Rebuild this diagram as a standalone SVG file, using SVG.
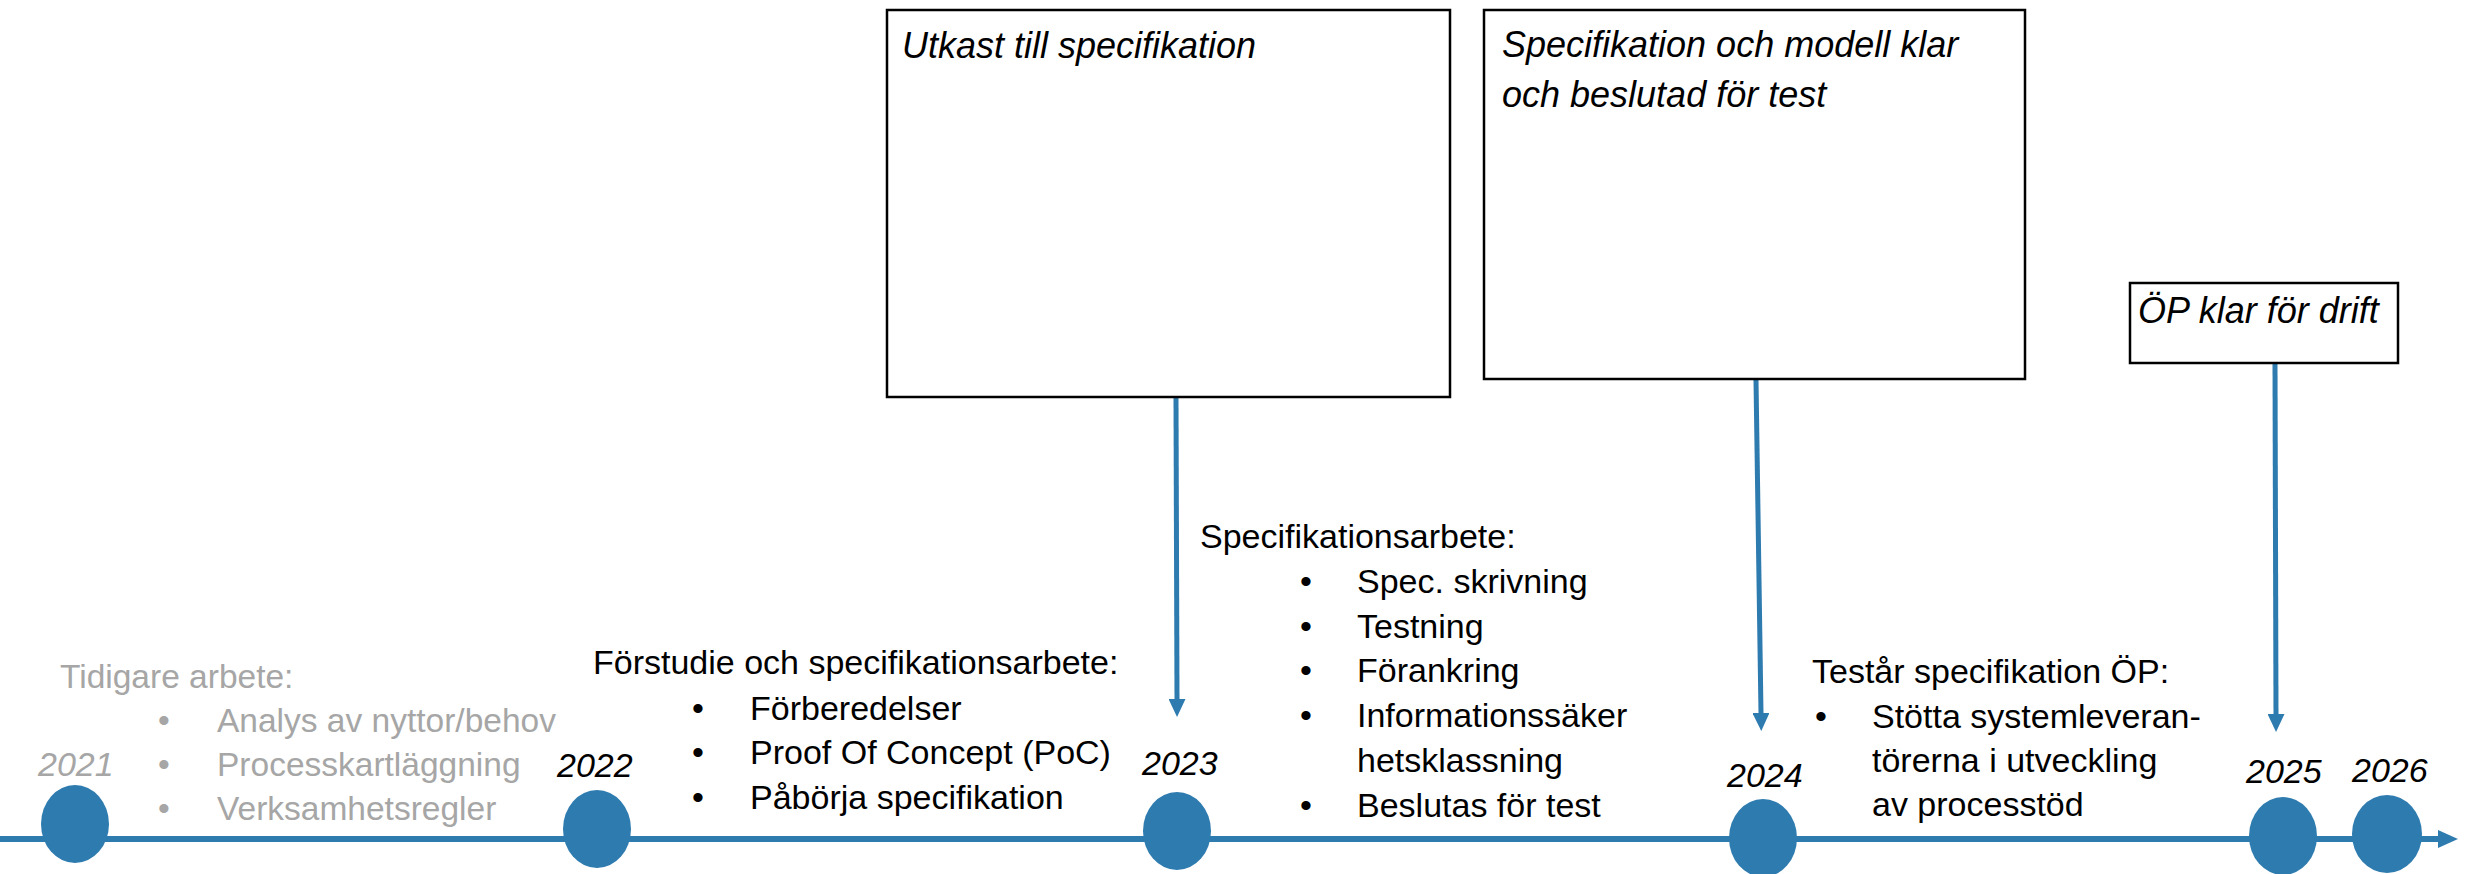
<svg xmlns="http://www.w3.org/2000/svg" width="2468" height="874" viewBox="0 0 2468 874">
<style>
text{font-family:"Liberation Sans",Arial,sans-serif;}
.gray{fill:#A6A6A6;font-size:33.5px;}
.blk{fill:#000;font-size:34px;}
.yr{font-size:34px;font-style:italic;fill:#000;}
.ttl{font-size:36px;font-style:italic;fill:#000;}
.box{fill:#fff;stroke:#000;stroke-width:2.5;}
.dot{fill:#2E7BAF;}
.conn{stroke:#2E7BAF;stroke-width:5;fill:none;}
.axis{stroke:#2E7BAF;stroke-width:6;fill:none;}
</style>
<defs>
<marker id="ah" markerUnits="userSpaceOnUse" markerWidth="18" markerHeight="17" refX="0" refY="8.5" orient="auto" viewBox="0 0 18 17">
<path d="M0,0 L18,8.5 L0,17 z" fill="#2E7BAF"/>
</marker>
<marker id="axh" markerUnits="userSpaceOnUse" markerWidth="20" markerHeight="18" refX="0" refY="9" orient="auto" viewBox="0 0 20 18">
<path d="M0,0 L20,9 L0,18 z" fill="#2E7BAF"/>
</marker>
</defs>
<rect x="0" y="0" width="2468" height="874" fill="#fff"/>

<g id="timeline">
<line class="axis" x1="0" y1="839" x2="2438" y2="839" marker-end="url(#axh)"/>
</g>

<g id="connectors">
<line class="conn" x1="1176" y1="398" x2="1177" y2="699" marker-end="url(#ah)"/>
<line class="conn" x1="1756" y1="380" x2="1761" y2="713" marker-end="url(#ah)"/>
<line class="conn" x1="2275" y1="364" x2="2276" y2="714" marker-end="url(#ah)"/>
</g>

<g id="box-utkast">
<rect class="box" x="887" y="10" width="563" height="387"/>
<text class="ttl" x="902" y="58">Utkast till specifikation</text>
</g>
<g id="box-spec-klar">
<rect class="box" x="1484" y="10" width="541" height="369"/>
<text class="ttl" x="1502" y="57">Specifikation och modell klar</text>
<text class="ttl" x="1502" y="107">och beslutad för test</text>
</g>
<g id="box-op-drift">
<rect class="box" x="2130" y="283" width="268" height="80"/>
<text class="ttl" x="2138" y="323">ÖP klar för drift</text>
</g>

<g id="y2021">
<ellipse class="dot" cx="75" cy="824" rx="34" ry="39"/>
<text class="yr" x="38" y="776" style="fill:#A6A6A6">2021</text>
</g>
<g id="y2022">
<ellipse class="dot" cx="597" cy="829" rx="34" ry="39"/>
<text class="yr" x="557" y="777">2022</text>
</g>
<g id="y2023">
<ellipse class="dot" cx="1177" cy="831" rx="34" ry="39"/>
<text class="yr" x="1142" y="775">2023</text>
</g>
<g id="y2024">
<ellipse class="dot" cx="1763" cy="838" rx="34" ry="39"/>
<text class="yr" x="1727" y="787">2024</text>
</g>
<g id="y2025">
<ellipse class="dot" cx="2283" cy="836" rx="34" ry="39"/>
<text class="yr" x="2246" y="783">2025</text>
</g>
<g id="y2026">
<ellipse class="dot" cx="2387" cy="834" rx="35" ry="39"/>
<text class="yr" x="2352" y="782">2026</text>
</g>

<g id="text-tidigare">
<text class="gray" x="60" y="688">Tidigare arbete:</text>
<text class="gray" x="158" y="732">•</text><text class="gray" x="217" y="732">Analys av nyttor/behov</text>
<text class="gray" x="158" y="776">•</text><text class="gray" x="217" y="776">Processkartläggning</text>
<text class="gray" x="158" y="820">•</text><text class="gray" x="217" y="820">Verksamhetsregler</text>
</g>

<g id="text-forstudie">
<text class="blk" x="593" y="674">Förstudie och specifikationsarbete:</text>
<text class="blk" x="692" y="720">•</text><text class="blk" x="750" y="720">Förberedelser</text>
<text class="blk" x="692" y="764">•</text><text class="blk" x="750" y="764">Proof Of Concept (PoC)</text>
<text class="blk" x="692" y="809">•</text><text class="blk" x="750" y="809">Påbörja specifikation</text>
</g>

<g id="text-specarbete">
<text class="blk" x="1200" y="548">Specifikationsarbete:</text>
<text class="blk" x="1300" y="593">•</text><text class="blk" x="1357" y="593">Spec. skrivning</text>
<text class="blk" x="1300" y="638">•</text><text class="blk" x="1357" y="638">Testning</text>
<text class="blk" x="1300" y="682">•</text><text class="blk" x="1357" y="682">Förankring</text>
<text class="blk" x="1300" y="727">•</text><text class="blk" x="1357" y="727">Informationssäker</text>
<text class="blk" x="1357" y="772">hetsklassning</text>
<text class="blk" x="1300" y="817">•</text><text class="blk" x="1357" y="817">Beslutas för test</text>
</g>

<g id="text-testar">
<text class="blk" x="1812" y="683">Testår specifikation ÖP:</text>
<text class="blk" x="1815" y="728">•</text><text class="blk" x="1872" y="728">Stötta systemleveran-</text>
<text class="blk" x="1872" y="772">törerna i utveckling</text>
<text class="blk" x="1872" y="816">av processtöd</text>
</g>
</svg>
